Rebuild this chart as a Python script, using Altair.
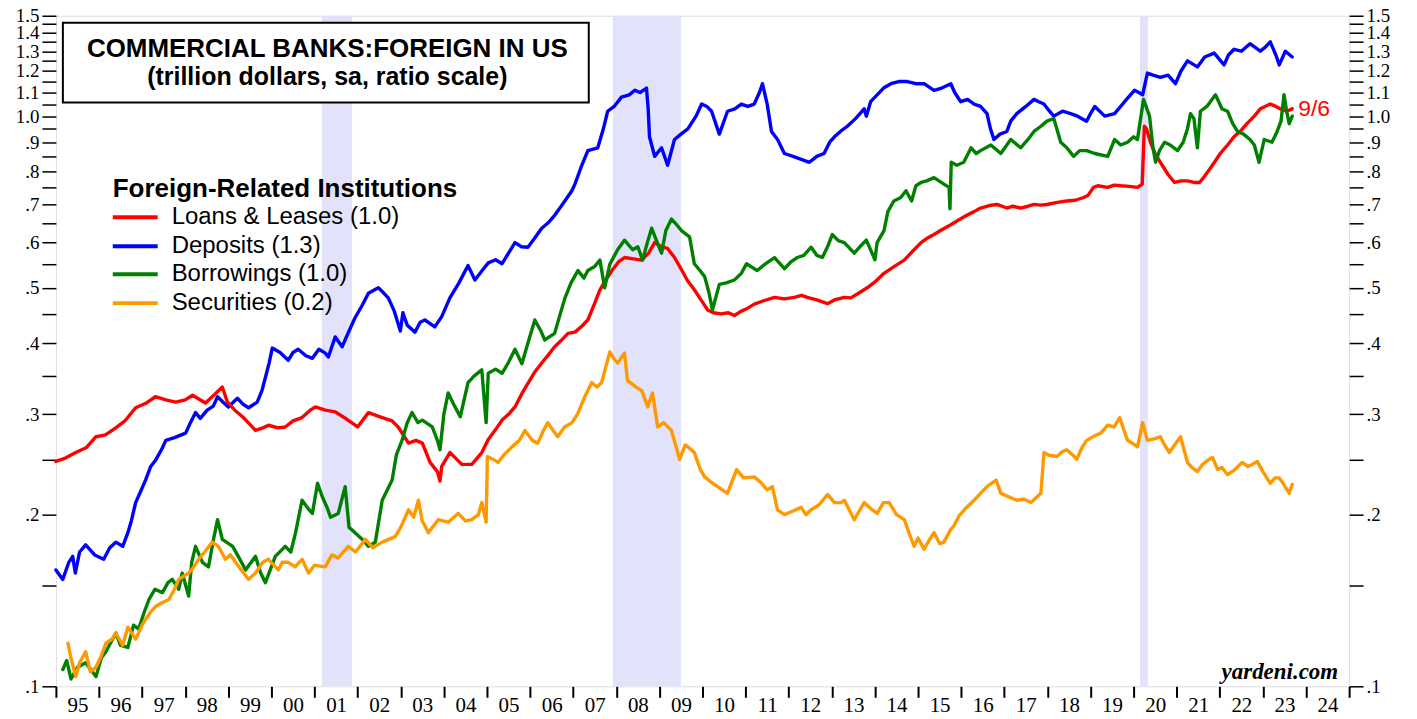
import altair as alt
import pandas as pd

# ---------------- data (trillion dollars) ----------------
loans_t = [1995.0, 1995.2, 1995.46, 1995.7, 1995.93, 1996.15, 1996.39, 1996.6, 1996.85, 1997.1, 1997.31, 1997.55, 1997.78, 1998.0, 1998.17, 1998.47, 1998.7, 1998.86, 1998.98, 1999.15, 1999.33, 1999.5, 1999.63, 1999.8, 1999.93, 2000.15, 2000.32, 2000.5, 2000.71, 2000.9, 2001.02, 2001.25, 2001.48, 2001.75, 2002.0, 2002.25, 2002.57, 2002.8, 2002.94, 2003.18, 2003.35, 2003.5, 2003.68, 2003.85, 2003.91, 2003.95, 2004.14, 2004.3, 2004.42, 2004.65, 2004.88, 2005.03, 2005.2, 2005.35, 2005.5, 2005.65, 2005.8, 2005.95, 2006.1, 2006.27, 2006.42, 2006.57, 2006.72, 2006.88, 2007.04, 2007.2, 2007.34, 2007.5, 2007.62, 2007.75, 2007.9, 2008.05, 2008.19, 2008.4, 2008.59, 2008.75, 2008.89, 2009.05, 2009.19, 2009.35, 2009.5, 2009.65, 2009.81, 2009.95, 2010.12, 2010.25, 2010.43, 2010.6, 2010.74, 2010.9, 2011.04, 2011.2, 2011.4, 2011.67, 2011.9, 2012.13, 2012.3, 2012.43, 2012.65, 2012.9, 2013.06, 2013.29, 2013.44, 2013.6, 2013.82, 2014.0, 2014.21, 2014.45, 2014.68, 2014.88, 2015.07, 2015.2, 2015.37, 2015.55, 2015.76, 2015.95, 2016.13, 2016.3, 2016.45, 2016.65, 2016.83, 2017.06, 2017.2, 2017.38, 2017.55, 2017.69, 2017.85, 2017.99, 2018.2, 2018.45, 2018.65, 2018.84, 2018.94, 2019.07, 2019.17, 2019.4, 2019.55, 2019.7, 2019.9, 2020.09, 2020.2, 2020.25, 2020.3, 2020.39, 2020.5, 2020.62, 2020.8, 2020.95, 2021.1, 2021.25, 2021.4, 2021.53, 2021.65, 2021.78, 2021.9, 2022.01, 2022.18, 2022.33, 2022.5, 2022.63, 2022.8, 2022.94, 2023.05, 2023.17, 2023.3, 2023.4, 2023.55, 2023.68]
loans_v = [0.248, 0.251, 0.257, 0.262, 0.274, 0.276, 0.284, 0.292, 0.308, 0.314, 0.322, 0.318, 0.315, 0.318, 0.324, 0.314, 0.326, 0.335, 0.315, 0.305, 0.297, 0.288, 0.281, 0.284, 0.287, 0.284, 0.285, 0.292, 0.296, 0.305, 0.309, 0.305, 0.303, 0.294, 0.285, 0.302, 0.296, 0.292, 0.285, 0.267, 0.270, 0.267, 0.247, 0.238, 0.229, 0.243, 0.257, 0.250, 0.245, 0.245, 0.257, 0.271, 0.282, 0.293, 0.300, 0.309, 0.325, 0.340, 0.355, 0.369, 0.381, 0.394, 0.404, 0.416, 0.418, 0.428, 0.439, 0.47, 0.496, 0.515, 0.536, 0.555, 0.565, 0.562, 0.559, 0.575, 0.60, 0.59, 0.586, 0.565, 0.54, 0.515, 0.496, 0.478, 0.457, 0.452, 0.45, 0.452, 0.447, 0.455, 0.46, 0.468, 0.474, 0.481, 0.478, 0.481, 0.485, 0.481, 0.476, 0.469, 0.476, 0.481, 0.48, 0.488, 0.50, 0.512, 0.53, 0.545, 0.559, 0.58, 0.60, 0.61, 0.62, 0.632, 0.645, 0.658, 0.67, 0.68, 0.69, 0.697, 0.70, 0.69, 0.695, 0.69, 0.695, 0.70, 0.698, 0.70, 0.705, 0.71, 0.712, 0.72, 0.726, 0.75, 0.755, 0.75, 0.757, 0.755, 0.753, 0.75, 0.76, 0.96, 0.95, 0.90, 0.86, 0.83, 0.79, 0.765, 0.77, 0.77, 0.765, 0.765, 0.785, 0.81, 0.835, 0.86, 0.89, 0.92, 0.945, 0.97, 1.0, 1.03, 1.04, 1.05, 1.04, 1.03, 1.02, 1.03]

deposits_t = [1995.0, 1995.16, 1995.3, 1995.39, 1995.45, 1995.55, 1995.69, 1995.9, 1996.11, 1996.25, 1996.39, 1996.55, 1996.67, 1996.75, 1996.85, 1996.97, 1997.08, 1997.2, 1997.31, 1997.45, 1997.55, 1997.75, 1998.01, 1998.12, 1998.24, 1998.35, 1998.51, 1998.65, 1998.75, 1998.88, 1999.0, 1999.21, 1999.35, 1999.47, 1999.67, 1999.78, 1999.86, 1999.95, 2000.02, 2000.2, 2000.39, 2000.5, 2000.62, 2000.8, 2000.95, 2001.1, 2001.25, 2001.32, 2001.48, 2001.64, 2001.8, 2001.94, 2002.1, 2002.25, 2002.48, 2002.6, 2002.71, 2002.85, 2002.99, 2003.05, 2003.15, 2003.33, 2003.45, 2003.56, 2003.79, 2003.95, 2004.14, 2004.35, 2004.56, 2004.72, 2004.88, 2005.03, 2005.2, 2005.35, 2005.5, 2005.65, 2005.8, 2005.95, 2006.1, 2006.27, 2006.42, 2006.57, 2006.75, 2006.97, 2007.04, 2007.2, 2007.34, 2007.57, 2007.7, 2007.8, 2007.95, 2008.12, 2008.3, 2008.43, 2008.55, 2008.7, 2008.74, 2008.77, 2008.89, 2009.05, 2009.19, 2009.35, 2009.5, 2009.66, 2009.85, 2009.98, 2010.1, 2010.21, 2010.39, 2010.58, 2010.75, 2010.9, 2011.05, 2011.2, 2011.32, 2011.39, 2011.5, 2011.6, 2011.74, 2011.9, 2012.1, 2012.29, 2012.48, 2012.65, 2012.82, 2012.95, 2013.06, 2013.2, 2013.36, 2013.55, 2013.75, 2013.8, 2013.9, 2014.05, 2014.2, 2014.37, 2014.55, 2014.75, 2014.95, 2015.14, 2015.37, 2015.55, 2015.76, 2015.85, 2015.99, 2016.15, 2016.3, 2016.45, 2016.6, 2016.68, 2016.76, 2016.9, 2017.06, 2017.15, 2017.29, 2017.5, 2017.69, 2017.8, 2017.92, 2018.05, 2018.15, 2018.35, 2018.54, 2018.7, 2018.91, 2019.0, 2019.1, 2019.33, 2019.56, 2019.79, 2020.02, 2020.12, 2020.21, 2020.32, 2020.45, 2020.62, 2020.8, 2020.97, 2021.1, 2021.25, 2021.48, 2021.65, 2021.87, 2022.1, 2022.2, 2022.33, 2022.5, 2022.7, 2022.94, 2023.05, 2023.17, 2023.3, 2023.38, 2023.52, 2023.68]
deposits_v = [0.160, 0.154, 0.165, 0.169, 0.158, 0.172, 0.177, 0.170, 0.167, 0.175, 0.179, 0.176, 0.186, 0.195, 0.21, 0.22, 0.23, 0.243, 0.249, 0.26, 0.27, 0.273, 0.278, 0.29, 0.302, 0.295, 0.305, 0.31, 0.322, 0.315, 0.309, 0.32, 0.312, 0.308, 0.315, 0.33, 0.348, 0.37, 0.392, 0.385, 0.373, 0.385, 0.39, 0.38, 0.376, 0.39, 0.384, 0.378, 0.41, 0.394, 0.42, 0.443, 0.465, 0.489, 0.50, 0.49, 0.48, 0.455, 0.42, 0.452, 0.43, 0.418, 0.435, 0.439, 0.427, 0.445, 0.48, 0.51, 0.547, 0.516, 0.535, 0.553, 0.56, 0.551, 0.575, 0.60, 0.59, 0.589, 0.61, 0.636, 0.65, 0.67, 0.70, 0.74, 0.76, 0.82, 0.87, 0.88, 0.95, 1.02, 1.04, 1.08, 1.09, 1.11, 1.10, 1.12, 1.03, 0.92, 0.85, 0.88, 0.82, 0.91, 0.93, 0.95, 1.0, 1.05, 1.04, 1.02, 0.93, 1.02, 1.03, 1.05, 1.04, 1.05, 1.10, 1.14, 1.05, 0.94, 0.91, 0.86, 0.85, 0.84, 0.83, 0.85, 0.86, 0.90, 0.92, 0.94, 0.96, 0.99, 1.03, 1.0, 1.06, 1.09, 1.12, 1.14, 1.15, 1.15, 1.14, 1.14, 1.11, 1.12, 1.14, 1.10, 1.06, 1.07, 1.05, 1.04, 1.01, 0.95, 0.91, 0.93, 0.94, 0.98, 1.01, 1.04, 1.07, 1.06, 1.05, 1.02, 1.0, 1.02, 1.01, 1.0, 0.98, 1.01, 1.04, 1.0, 1.01, 1.06, 1.11, 1.10, 1.09, 1.19, 1.18, 1.17, 1.18, 1.14, 1.2, 1.25, 1.22, 1.27, 1.29, 1.23, 1.28, 1.31, 1.30, 1.34, 1.30, 1.32, 1.35, 1.28, 1.23, 1.30, 1.27]

borrow_t = [1995.16, 1995.25, 1995.35, 1995.5, 1995.69, 1995.93, 1996.05, 1996.16, 1996.39, 1996.5, 1996.67, 1996.8, 1996.92, 1997.05, 1997.16, 1997.3, 1997.47, 1997.6, 1997.7, 1997.85, 1997.93, 1998.08, 1998.15, 1998.24, 1998.4, 1998.54, 1998.65, 1998.75, 1998.86, 1999.1, 1999.25, 1999.4, 1999.63, 1999.75, 1999.86, 2000.09, 2000.32, 2000.45, 2000.56, 2000.71, 2000.85, 2000.95, 2001.07, 2001.18, 2001.3, 2001.37, 2001.55, 2001.71, 2001.8, 2001.87, 2002.11, 2002.25, 2002.41, 2002.57, 2002.8, 2002.9, 2003.03, 2003.15, 2003.26, 2003.4, 2003.5, 2003.73, 2003.85, 2003.91, 2004.0, 2004.1, 2004.25, 2004.38, 2004.56, 2004.7, 2004.88, 2004.98, 2005.03, 2005.2, 2005.35, 2005.5, 2005.65, 2005.81, 2005.95, 2006.11, 2006.25, 2006.34, 2006.57, 2006.7, 2006.81, 2006.95, 2007.11, 2007.25, 2007.34, 2007.5, 2007.62, 2007.73, 2007.85, 2008.03, 2008.19, 2008.38, 2008.5, 2008.61, 2008.72, 2008.82, 2008.95, 2009.05, 2009.15, 2009.28, 2009.4, 2009.51, 2009.7, 2009.81, 2009.95, 2010.05, 2010.15, 2010.23, 2010.39, 2010.55, 2010.74, 2010.9, 2011.02, 2011.27, 2011.45, 2011.67, 2011.9, 2012.05, 2012.2, 2012.35, 2012.52, 2012.65, 2012.78, 2012.9, 2013.01, 2013.15, 2013.29, 2013.52, 2013.65, 2013.8, 2014.0, 2014.05, 2014.21, 2014.3, 2014.44, 2014.6, 2014.72, 2014.85, 2014.95, 2015.07, 2015.2, 2015.37, 2015.6, 2015.72, 2015.74, 2015.77, 2015.9, 2016.06, 2016.23, 2016.35, 2016.45, 2016.69, 2016.92, 2017.15, 2017.38, 2017.55, 2017.69, 2017.85, 2017.99, 2018.15, 2018.31, 2018.45, 2018.61, 2018.75, 2018.91, 2019.1, 2019.4, 2019.56, 2019.7, 2019.86, 2020.0, 2020.09, 2020.23, 2020.37, 2020.45, 2020.51, 2020.6, 2020.72, 2020.85, 2021.02, 2021.15, 2021.25, 2021.32, 2021.4, 2021.48, 2021.55, 2021.7, 2021.9, 2022.05, 2022.18, 2022.3, 2022.41, 2022.55, 2022.7, 2022.8, 2022.91, 2023.03, 2023.21, 2023.33, 2023.42, 2023.49, 2023.55, 2023.61, 2023.68]
borrow_v = [0.107, 0.111, 0.103, 0.108, 0.110, 0.104, 0.112, 0.115, 0.124, 0.118, 0.117, 0.128, 0.126, 0.135, 0.142, 0.148, 0.146, 0.152, 0.154, 0.148, 0.158, 0.144, 0.165, 0.176, 0.165, 0.162, 0.18, 0.196, 0.181, 0.176, 0.168, 0.160, 0.169, 0.158, 0.152, 0.169, 0.176, 0.172, 0.186, 0.212, 0.205, 0.201, 0.227, 0.215, 0.205, 0.198, 0.201, 0.224, 0.19, 0.188, 0.181, 0.176, 0.179, 0.212, 0.23, 0.255, 0.27, 0.29, 0.302, 0.29, 0.293, 0.285, 0.27, 0.26, 0.30, 0.327, 0.31, 0.297, 0.341, 0.35, 0.359, 0.29, 0.354, 0.36, 0.354, 0.37, 0.39, 0.368, 0.40, 0.439, 0.42, 0.405, 0.416, 0.45, 0.48, 0.51, 0.536, 0.52, 0.536, 0.545, 0.559, 0.50, 0.55, 0.583, 0.606, 0.583, 0.59, 0.559, 0.60, 0.636, 0.60, 0.575, 0.63, 0.66, 0.645, 0.63, 0.614, 0.551, 0.535, 0.523, 0.49, 0.457, 0.507, 0.51, 0.516, 0.53, 0.551, 0.536, 0.55, 0.565, 0.54, 0.555, 0.565, 0.57, 0.589, 0.57, 0.565, 0.59, 0.62, 0.605, 0.60, 0.575, 0.59, 0.606, 0.56, 0.60, 0.63, 0.68, 0.71, 0.72, 0.74, 0.71, 0.755, 0.765, 0.77, 0.78, 0.76, 0.75, 0.688, 0.83, 0.82, 0.83, 0.88, 0.86, 0.87, 0.89, 0.86, 0.91, 0.88, 0.91, 0.94, 0.96, 0.98, 0.99, 0.90, 0.88, 0.85, 0.87, 0.87, 0.86, 0.85, 0.91, 0.89, 0.90, 0.92, 0.91, 1.07, 1.0, 0.88, 0.83, 0.87, 0.90, 0.89, 0.87, 0.90, 0.95, 1.01, 0.99, 0.88, 1.02, 1.04, 1.09, 1.03, 1.02, 0.97, 0.94, 0.93, 0.91, 0.89, 0.83, 0.91, 0.90, 0.94, 0.98, 1.09, 1.02, 0.97, 1.0]

secur_t = [1995.28, 1995.35, 1995.46, 1995.55, 1995.69, 1995.8, 1995.93, 1996.05, 1996.16, 1996.3, 1996.39, 1996.55, 1996.67, 1996.85, 1997.0, 1997.08, 1997.2, 1997.31, 1997.45, 1997.62, 1997.75, 1997.85, 1998.08, 1998.2, 1998.31, 1998.45, 1998.63, 1998.77, 1998.93, 1999.05, 1999.17, 1999.3, 1999.47, 1999.63, 1999.8, 1999.93, 2000.16, 2000.25, 2000.39, 2000.55, 2000.71, 2000.86, 2001.0, 2001.25, 2001.4, 2001.55, 2001.78, 2001.95, 2002.18, 2002.35, 2002.57, 2002.87, 2003.0, 2003.18, 2003.3, 2003.41, 2003.5, 2003.64, 2003.87, 2004.1, 2004.33, 2004.5, 2004.65, 2004.8, 2004.88, 2004.98, 2005.01, 2005.15, 2005.26, 2005.4, 2005.58, 2005.75, 2005.88, 2006.05, 2006.18, 2006.3, 2006.41, 2006.55, 2006.64, 2006.8, 2006.97, 2007.1, 2007.27, 2007.43, 2007.55, 2007.66, 2007.85, 2007.95, 2008.03, 2008.19, 2008.26, 2008.45, 2008.59, 2008.73, 2008.84, 2008.96, 2009.1, 2009.28, 2009.47, 2009.6, 2009.66, 2009.81, 2009.95, 2010.05, 2010.2, 2010.35, 2010.58, 2010.79, 2010.95, 2011.2, 2011.35, 2011.5, 2011.62, 2011.74, 2011.9, 2012.1, 2012.29, 2012.4, 2012.52, 2012.7, 2012.9, 2013.06, 2013.22, 2013.29, 2013.52, 2013.75, 2013.9, 2014.05, 2014.2, 2014.33, 2014.5, 2014.68, 2014.8, 2014.91, 2015.0, 2015.14, 2015.25, 2015.37, 2015.5, 2015.6, 2015.75, 2015.83, 2015.95, 2016.1, 2016.3, 2016.45, 2016.6, 2016.81, 2016.92, 2017.1, 2017.29, 2017.45, 2017.62, 2017.85, 2017.92, 2018.05, 2018.22, 2018.35, 2018.45, 2018.6, 2018.68, 2018.8, 2018.91, 2019.1, 2019.24, 2019.4, 2019.55, 2019.68, 2019.75, 2019.86, 2020.0, 2020.09, 2020.21, 2020.32, 2020.5, 2020.62, 2020.72, 2020.83, 2020.95, 2021.09, 2021.17, 2021.25, 2021.35, 2021.48, 2021.6, 2021.75, 2021.83, 2021.95, 2022.05, 2022.18, 2022.35, 2022.52, 2022.65, 2022.75, 2022.87, 2023.0, 2023.17, 2023.28, 2023.38, 2023.5, 2023.61, 2023.68]
secur_v = [0.119, 0.112, 0.104, 0.110, 0.115, 0.106, 0.108, 0.113, 0.119, 0.121, 0.124, 0.118, 0.127, 0.121, 0.128, 0.131, 0.135, 0.138, 0.14, 0.142, 0.148, 0.154, 0.158, 0.162, 0.167, 0.172, 0.179, 0.176, 0.167, 0.17, 0.165, 0.16, 0.154, 0.158, 0.165, 0.167, 0.160, 0.165, 0.165, 0.162, 0.167, 0.158, 0.163, 0.162, 0.17, 0.168, 0.176, 0.172, 0.181, 0.175, 0.179, 0.183, 0.19, 0.204, 0.198, 0.212, 0.195, 0.186, 0.196, 0.194, 0.201, 0.195, 0.196, 0.2, 0.21, 0.194, 0.253, 0.25, 0.247, 0.255, 0.263, 0.27, 0.281, 0.27, 0.267, 0.28, 0.29, 0.28, 0.274, 0.285, 0.29, 0.30, 0.322, 0.341, 0.335, 0.341, 0.386, 0.375, 0.369, 0.384, 0.344, 0.335, 0.33, 0.309, 0.327, 0.285, 0.29, 0.281, 0.25, 0.265, 0.263, 0.257, 0.24, 0.233, 0.228, 0.224, 0.218, 0.24, 0.232, 0.233, 0.228, 0.221, 0.224, 0.204, 0.20, 0.203, 0.206, 0.20, 0.204, 0.208, 0.217, 0.21, 0.21, 0.212, 0.196, 0.21, 0.205, 0.201, 0.21, 0.21, 0.2, 0.196, 0.185, 0.176, 0.182, 0.174, 0.18, 0.186, 0.178, 0.179, 0.188, 0.191, 0.199, 0.205, 0.212, 0.218, 0.224, 0.23, 0.218, 0.215, 0.212, 0.213, 0.21, 0.218, 0.257, 0.254, 0.253, 0.258, 0.26, 0.254, 0.25, 0.262, 0.27, 0.275, 0.278, 0.287, 0.285, 0.296, 0.285, 0.27, 0.266, 0.263, 0.29, 0.27, 0.272, 0.274, 0.265, 0.257, 0.265, 0.274, 0.26, 0.247, 0.242, 0.238, 0.245, 0.25, 0.252, 0.24, 0.242, 0.235, 0.24, 0.247, 0.243, 0.245, 0.248, 0.238, 0.227, 0.232, 0.232, 0.225, 0.218, 0.226]

recession_start = [2001.17, 2007.92, 2020.15]
recession_end = [2001.87, 2009.5, 2020.33]

series_names = ["Loans & Leases", "Deposits", "Borrowings", "Securities"]
legend_labels = ["Loans & Leases (1.0)", "Deposits (1.3)", "Borrowings (1.0)", "Securities (0.2)"]
series_colors = ["#FF0000", "#0000FF", "#008000", "#FF9900"]

year_ticks = list(range(1995, 2026))
y_ticks = [round(0.1 + 0.05 * i, 2) for i in range(29)]

last_label = "9/6"
title_line1 = "COMMERCIAL BANKS:FOREIGN IN US"
title_line2 = "(trillion dollars, sa, ratio scale)"
legend_title = "Foreign-Related Institutions"
credit = "yardeni.com"

# ---------------- build ----------------
W, H = 1296, 672
SERIF = "Liberation Serif"
SANS = "Liberation Sans"

frames = {
    "Loans & Leases": pd.DataFrame({"t": loans_t, "v": loans_v}),
    "Deposits": pd.DataFrame({"t": deposits_t, "v": deposits_v}),
    "Borrowings": pd.DataFrame({"t": borrow_t, "v": borrow_v}),
    "Securities": pd.DataFrame({"t": secur_t, "v": secur_v}),
}
color_of = dict(zip(series_names, series_colors))

xscale = alt.Scale(domain=[1995, 2025], nice=False, zero=False)
yscale = alt.Scale(type="log", domain=[0.1, 1.5], nice=False)

xaxis = alt.Axis(
    values=year_ticks,
    labelExpr="datum.value >= 2025 ? '' : substring(toString(datum.value), 2, 4)",
    labelOffset=21.6, tickSize=11, tickWidth=2, tickColor="black",
    domain=False, grid=False, title=None,
    labelFont=SERIF, labelFontSize=21, labelColor="black", labelPadding=-3,
    labelOverlap=False, labelFlush=False, labelBound=False,
)
ylabel_expr = ("abs(datum.value*10 - round(datum.value*10)) > 0.01 ? '' : "
               "(datum.value >= 0.99 ? format(datum.value, '.1f') : "
               "replace(format(datum.value, '.1f'), '0.', '.'))")


def yaxis(orient):
    return alt.Axis(
        orient=orient, values=y_ticks, labelExpr=ylabel_expr,
        tickSize=14, tickWidth=1.5, tickColor="black",
        domain=False, grid=False, title=None,
        labelFont=SERIF, labelFontSize=19, labelColor="black", labelPadding=3,
        labelOverlap=False, labelFlush=False, labelBound=False,
    )


X = alt.X("t:Q", scale=xscale, axis=xaxis)

bands = alt.Chart(pd.DataFrame({"s": recession_start, "e": recession_end})).mark_rect(
    color="#E2E2FA", opacity=1
).encode(x=alt.X("s:Q", scale=xscale, axis=xaxis), x2="e:Q")

draw_order = ["Deposits", "Loans & Leases", "Borrowings", "Securities"]
line_layers = []
for i, name in enumerate(draw_order):
    line_layers.append(
        alt.Chart(frames[name]).mark_line(
            color=color_of[name], strokeWidth=3.4, strokeJoin="round", strokeCap="round"
        ).encode(
            x=X,
            y=alt.Y("v:Q", scale=yscale, axis=yaxis("left") if i == 0 else None),
        )
    )

right_axis = alt.Chart(frames["Deposits"]).mark_line(opacity=0).encode(
    x=X, y=alt.Y("v:Q", scale=yscale, axis=yaxis("right"))
)

end_label = alt.Chart(
    pd.DataFrame({"t": [loans_t[-1]], "v": [loans_v[-1]], "lab": [last_label]})
).mark_text(align="left", baseline="middle", dx=6, color="#FF0000", font=SANS, fontSize=23).encode(
    x=X, y=alt.Y("v:Q", scale=yscale, axis=None), text="lab:N"
)

one = pd.DataFrame({"a": [0]})
title_box = alt.Chart(one).mark_rect(fill="white", stroke="black", strokeWidth=2).encode(
    x=alt.value(7), x2=alt.value(534), y=alt.value(7), y2=alt.value(87)
)
title1 = alt.Chart(pd.DataFrame({"s": [title_line1]})).mark_text(
    font=SANS, fontSize=26, fontWeight="bold", align="center", baseline="alphabetic", color="black"
).encode(x=alt.value(272), y=alt.value(41), text="s:N")
title2 = alt.Chart(pd.DataFrame({"s": [title_line2]})).mark_text(
    font=SANS, fontSize=25, fontWeight="bold", align="center", baseline="alphabetic", color="black"
).encode(x=alt.value(272), y=alt.value(69), text="s:N")

leg_title = alt.Chart(pd.DataFrame({"s": [legend_title]})).mark_text(
    font=SANS, fontSize=26, fontWeight="bold", align="left", baseline="alphabetic", color="black"
).encode(x=alt.value(57), y=alt.value(182), text="s:N")

legend_layers = []
row_y = [202, 231, 259, 288]
for lab, col, yy in zip(legend_labels, series_colors, row_y):
    d = pd.DataFrame({"s": [lab]})
    legend_layers.append(
        alt.Chart(d).mark_rule(color=col, strokeWidth=4).encode(
            x=alt.value(57), x2=alt.value(102), y=alt.value(yy)
        )
    )
    legend_layers.append(
        alt.Chart(d).mark_text(font=SANS, fontSize=24, align="left", baseline="middle", color="black").encode(
            x=alt.value(116), y=alt.value(yy), text="s:N"
        )
    )

credit_text = alt.Chart(pd.DataFrame({"s": [credit]})).mark_text(
    font=SERIF, fontSize=23, fontWeight="bold", fontStyle="italic", align="right",
    baseline="alphabetic", color="black"
).encode(x=alt.value(1285), y=alt.value(665), text="s:N")

chart = alt.layer(
    bands, *line_layers, right_axis, end_label,
    title_box, title1, title2, leg_title, *legend_layers, credit_text
).resolve_axis(y="independent").properties(
    width=W, height=H,
    padding={"left": 48, "top": 7, "right": 60, "bottom": 30},
    autosize=alt.AutoSizeParams(type="none"),
).configure_view(
    fill="#FFFFE0", stroke="black", strokeWidth=2.5
).configure(background="white")

chart.save("out.html", embed_options={"renderer": "svg", "actions": False})
